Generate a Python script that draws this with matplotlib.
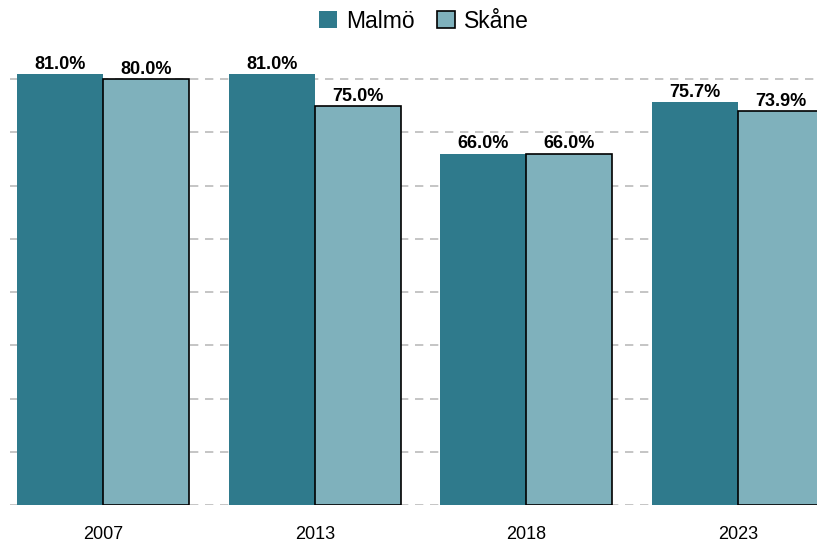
import matplotlib
matplotlib.use("Agg")
import matplotlib.pyplot as plt
import numpy as np

plt.rcParams['font.family'] = ['Liberation Sans', 'DejaVu Sans']

years = ["2007", "2013", "2018", "2023"]
malmo = [81.0, 81.0, 66.0, 75.7]
skane = [80.0, 75.0, 66.0, 73.9]

W, H = 817, 542
fig = plt.figure(figsize=(W/100, H/100), dpi=100)
left_px, right_px = 10, 831
bottom_px = H - 505
ymax = 85
height_px = ymax * 5.325
ax = fig.add_axes([left_px/W, bottom_px/H, (right_px-left_px)/W, height_px/H])

x = np.arange(len(years))
bw = 0.406
c1, c2 = "#2F7A8C", "#7FB1BC"
b1 = ax.bar(x - bw/2, malmo, bw, color=c1, label="Malmö", zorder=3, linewidth=0)
b2 = ax.bar(x + bw/2, skane, bw, color=c2, edgecolor="black", linewidth=1.2, label="Skåne", zorder=3)

for bars, vals in ((b1, malmo), (b2, skane)):
    for r, v in zip(bars, vals):
        ax.text(r.get_x() + r.get_width()/2, v + 0.2, f"{v:.1f}%", ha="center", va="bottom",
                fontsize=13, fontweight="bold", zorder=4)

ax.set_xlim(-0.44, 3.44)
ax.set_ylim(0, ymax)
ax.set_yticks(np.arange(0, 81, 10))
ax.yaxis.grid(True, linestyle=(0, (5, 4)), color="#BBBBBB", linewidth=1.2, zorder=0)
ax.set_yticklabels([])
ax.tick_params(axis="y", length=0)
ax.set_xticks(x)
ax.set_xticklabels(years, fontsize=13)
ax.tick_params(axis="x", length=0, pad=15)
for s in ax.spines.values():
    s.set_visible(False)

fig.legend(handles=[b1, b2], labels=["Malmö", "Skåne"], loc="center",
           bbox_to_anchor=(424/W, 1 - 21/H), ncol=2, frameon=False, fontsize=16.5,
           handlelength=0.75, handleheight=0.75, handletextpad=0.4, columnspacing=1.0)

fig.savefig("out.png", dpi=100)
